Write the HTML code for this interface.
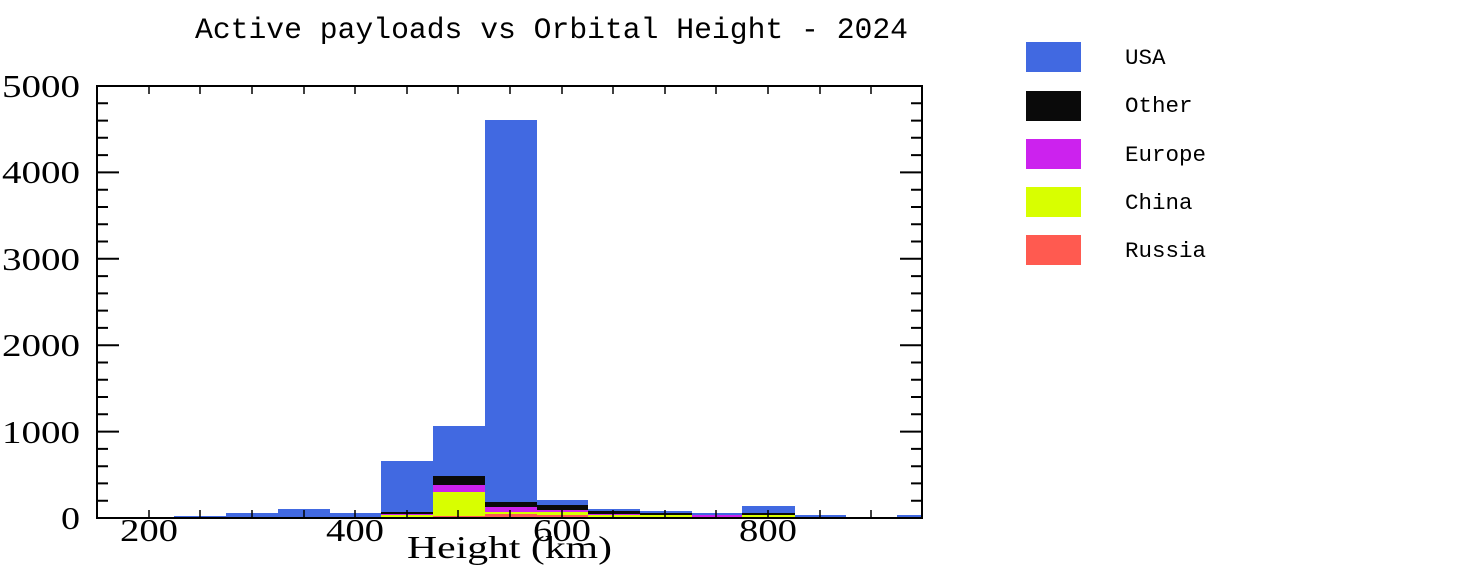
<!DOCTYPE html>
<html><head><meta charset="utf-8"><style>
html,body{margin:0;padding:0;background:#fff;}
svg{display:block;}
.m{font-family:"Liberation Mono",monospace;}
.s{font-family:"Liberation Serif",serif;}
</style></head><body>
<svg width="1478" height="576" viewBox="0 0 1478 576" xmlns="http://www.w3.org/2000/svg">
<rect width="1478" height="576" fill="#fff"/>
<text x="195" y="38" textLength="713" lengthAdjust="spacingAndGlyphs" class="m" font-size="30" fill="#000">Active payloads vs Orbital Height - 2024</text>
<g fill="#4169e1">
<rect x="174" y="516" width="52" height="2"/>
<rect x="226" y="513" width="52" height="5"/>
<rect x="278" y="509" width="52" height="9"/>
<rect x="330" y="513" width="51" height="5"/>
<rect x="381" y="461" width="52" height="57"/>
<rect x="433" y="426" width="52" height="92"/>
<rect x="485" y="120" width="52" height="398"/>
<rect x="537" y="500" width="51" height="18"/>
<rect x="588" y="509" width="52" height="9"/>
<rect x="640" y="511" width="52" height="7"/>
<rect x="692" y="513" width="50" height="5"/>
<rect x="742" y="506" width="53" height="12"/>
<rect x="795" y="515" width="51" height="3"/>
<rect x="846" y="517" width="51" height="1"/>
<rect x="897" y="515" width="25" height="3"/>
</g>
<g fill="#0a0a0a">
<rect x="381" y="512" width="52" height="6"/>
<rect x="433" y="476" width="52" height="42"/>
<rect x="485" y="502" width="52" height="16"/>
<rect x="537" y="505" width="51" height="13"/>
<rect x="588" y="511" width="52" height="7"/>
<rect x="640" y="513" width="52" height="5"/>
<rect x="742" y="513" width="53" height="5"/>
</g>
<g fill="#cc22ee">
<rect x="381" y="514" width="52" height="4"/>
<rect x="433" y="485" width="52" height="33"/>
<rect x="485" y="507" width="52" height="11"/>
<rect x="537" y="510" width="51" height="8"/>
<rect x="588" y="514" width="52" height="4"/>
<rect x="692" y="515" width="50" height="3"/>
</g>
<g fill="#d8ff00">
<rect x="381" y="515" width="52" height="3"/>
<rect x="433" y="492" width="52" height="26"/>
<rect x="485" y="512" width="52" height="6"/>
<rect x="537" y="512" width="51" height="6"/>
<rect x="588" y="515" width="52" height="3"/>
<rect x="640" y="515" width="52" height="3"/>
<rect x="742" y="515" width="53" height="3"/>
</g>
<g fill="#ff5a50">
<rect x="174" y="517" width="748" height="1"/>
<rect x="433" y="516" width="52" height="2"/>
<rect x="485" y="514" width="52" height="4"/>
<rect x="537" y="515" width="51" height="3"/>
</g>
<rect x="97" y="86" width="825" height="432" fill="none" stroke="#000" stroke-width="2"/>
<g stroke="#000" stroke-width="1.5">
<path d="M149,518v-8M200,518v-8M252,518v-8M304,518v-8M355,518v-8M407,518v-8M458,518v-8M510,518v-8M562,518v-8M613,518v-8M665,518v-8M716,518v-8M768,518v-8M820,518v-8M871,518v-8"/>
<path d="M149,86v8M200,86v8M252,86v8M304,86v8M355,86v8M407,86v8M458,86v8M510,86v8M562,86v8M613,86v8M665,86v8M716,86v8M768,86v8M820,86v8M871,86v8"/>
</g>
<g stroke="#000" stroke-width="2">
<path d="M97,172.4h22M97,258.8h22M97,345.2h22M97,431.6h22M922,172.4h-22M922,258.8h-22M922,345.2h-22M922,431.6h-22"/>
<path d="M97,103.3h11M97,120.6h11M97,137.8h11M97,155.1h11M97,189.7h11M97,207h11M97,224.2h11M97,241.5h11M97,276.1h11M97,293.4h11M97,310.6h11M97,327.9h11M97,362.5h11M97,379.8h11M97,397h11M97,414.3h11M97,448.9h11M97,466.2h11M97,483.4h11M97,500.7h11"/>
<path d="M922,103.3h-11M922,120.6h-11M922,137.8h-11M922,155.1h-11M922,189.7h-11M922,207h-11M922,224.2h-11M922,241.5h-11M922,276.1h-11M922,293.4h-11M922,310.6h-11M922,327.9h-11M922,362.5h-11M922,379.8h-11M922,397h-11M922,414.3h-11M922,448.9h-11M922,466.2h-11M922,483.4h-11M922,500.7h-11"/>
</g>
<g class="s" font-size="32" fill="#000">
<text x="2" y="97" textLength="78" lengthAdjust="spacingAndGlyphs">5000</text>
<text x="2" y="183" textLength="78" lengthAdjust="spacingAndGlyphs">4000</text>
<text x="2" y="270" textLength="78" lengthAdjust="spacingAndGlyphs">3000</text>
<text x="2" y="356" textLength="78" lengthAdjust="spacingAndGlyphs">2000</text>
<text x="2" y="443" textLength="78" lengthAdjust="spacingAndGlyphs">1000</text>
<text x="61" y="529" textLength="19" lengthAdjust="spacingAndGlyphs">0</text>
<text x="120" y="541" textLength="58" lengthAdjust="spacingAndGlyphs">200</text>
<text x="326" y="541" textLength="58" lengthAdjust="spacingAndGlyphs">400</text>
<text x="533" y="541" textLength="58" lengthAdjust="spacingAndGlyphs">600</text>
<text x="739" y="541" textLength="58" lengthAdjust="spacingAndGlyphs">800</text>
<text x="407" y="558" textLength="205" lengthAdjust="spacingAndGlyphs">Height (km)</text>
</g>
<rect x="1026" y="42" width="55" height="30" fill="#4169e1"/>
<rect x="1026" y="91" width="55" height="30" fill="#0a0a0a"/>
<rect x="1026" y="139" width="55" height="30" fill="#cc22ee"/>
<rect x="1026" y="187" width="55" height="30" fill="#d8ff00"/>
<rect x="1026" y="235" width="55" height="30" fill="#ff5a50"/>
<g class="m" font-size="22.5" fill="#000">
<text x="1125" y="64">USA</text>
<text x="1125" y="112">Other</text>
<text x="1125" y="161">Europe</text>
<text x="1125" y="209">China</text>
<text x="1125" y="257">Russia</text>
</g>
</svg>
</body></html>
